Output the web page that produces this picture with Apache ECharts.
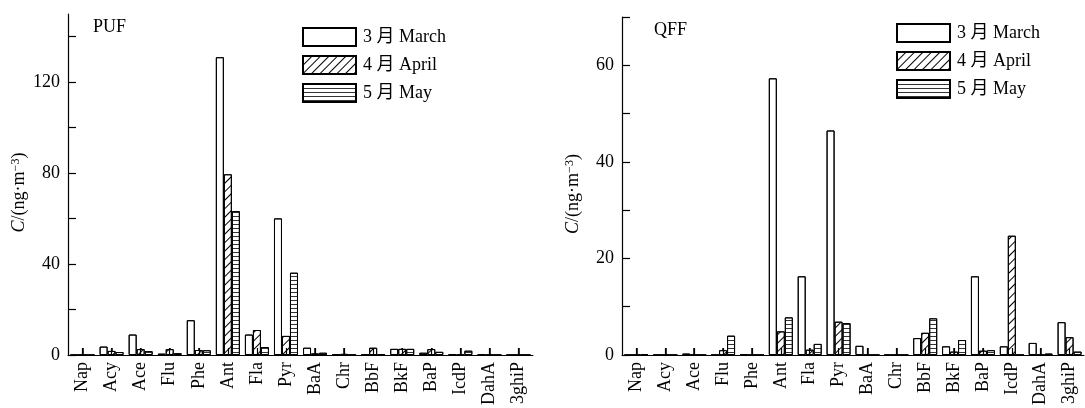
<!DOCTYPE html>
<html>
<head>
<meta charset="utf-8">
<script src="https://cdn.jsdelivr.net/npm/echarts@6/dist/echarts.min.js"></script>
<style>
html,body{margin:0;padding:0;background:#fff;}
#chart{width:1085px;height:408px;}
</style>
</head>
<body>
<div id="chart"></div>
<script>
const categories = ['Nap','Acy','Ace','Flu','Phe','Ant','Fla','Pyr','BaA','Chr','BbF','BkF','BaP','IcdP','DahA','3ghiP'];
const seriesNames = ['3 月 March', '4 月 April', '5 月 May'];
// PUF (ng/m3)
const pufMarch = [0, 3.7, 9.0, 0.6, 15.3, 131, 9.0, 60.1, 3.2, 0.4, 0.3, 2.7, 1.0, 0.3, 0.3, 0];
const pufApril = [0, 1.8, 2.6, 2.6, 2.2, 79.5, 11.0, 8.4, 0.7, 0.5, 3.2, 2.7, 2.6, 0, 0, 0];
const pufMay   = [0, 1.3, 1.7, 0.8, 2.1, 63.3, 3.5, 36.2, 1.0, 0, 0.4, 2.7, 1.4, 1.9, 0, 0];
// QFF (ng/m3)
const qffMarch = [0, 0, 0.3, 0, 0.2, 57.3, 16.3, 46.5, 1.9, 0, 3.5, 1.8, 16.3, 1.8, 2.5, 6.8];
const qffApril = [0, 0, 0, 1.0, 0, 4.9, 1.1, 6.9, 0, 0, 4.6, 0.7, 0.9, 24.7, 0, 3.7];
const qffMay   = [0.2, 0, 0, 4.0, 0, 7.8, 2.3, 6.6, 0, 0, 7.6, 3.1, 1.0, 0, 0.3, 0.7];
// axis ticks
const pufTicks = [0, 20, 40, 60, 80, 100, 120, 140];
const pufLabels = [0, 40, 80, 120];
const qffTicks = [0, 10, 20, 30, 40, 50, 60, 70];
const qffLabels = [0, 20, 40, 60];

const FONT = 'Liberation Serif, "Times New Roman", "Noto Sans CJK SC", serif';
const decals = [
  { symbol: 'rect', symbolSize: 1, color: 'rgba(0,0,0,0)', dashArrayX: [1, 0], dashArrayY: [1, 0], rotation: 0 },
  { symbol: 'rect', symbolSize: 1, color: '#000', dashArrayX: [1, 0], dashArrayY: [1, 5], rotation: -Math.PI / 4 },
  { symbol: 'rect', symbolSize: 1, color: '#333', dashArrayX: [1, 0], dashArrayY: [1, 3], rotation: 0 }
];

function xAxis(gridIndex) {
  return {
    type: 'category', gridIndex, data: categories,
    axisLine: { show: true, lineStyle: { color: '#000', width: 1 } },
    axisTick: { show: true, inside: true, interval: 0, alignWithLabel: true, length: 7, lineStyle: { color: '#000', width: 1.5 } },
    axisLabel: { interval: 0, rotate: 90, margin: 7, color: '#000', fontSize: 18, fontFamily: FONT }
  };
}
function tickAxis(gridIndex) {
  return {
    type: 'category', gridIndex, data: categories, position: 'bottom', z: 3,
    axisLine: { show: false, onZero: false },
    axisTick: { show: true, inside: true, interval: 0, alignWithLabel: true, length: 7, lineStyle: { color: '#000', width: 1.2 } },
    axisLabel: { show: false },
    splitLine: { show: false }
  };
}
function yAxis(gridIndex, max, ticks, labels) {
  return {
    type: 'value', gridIndex, min: 0, max,
    name: '{i|C}/(ng·m{s|−3})', nameLocation: 'middle', nameGap: 40, nameRotate: 90,
    nameTextStyle: { color: '#000', fontSize: 18, fontFamily: FONT, padding: [0, 16, 0, 0],
      rich: { i: { fontStyle: 'italic', fontSize: 18, fontFamily: FONT, color: '#000' },
              s: { fontSize: 12, fontFamily: FONT, color: '#000', verticalAlign: 'top' } } },
    axisLine: { show: true, lineStyle: { color: '#000', width: 1.2 } },
    axisTick: { show: true, inside: true, length: 8, customValues: ticks, lineStyle: { color: '#000', width: 1.2 } },
    axisLabel: { customValues: labels, margin: 8, color: '#000', fontSize: 18, fontFamily: FONT },
    splitLine: { show: false }
  };
}
function bars(idx, data, i) {
  return {
    type: 'bar', name: seriesNames[i], xAxisIndex: idx, yAxisIndex: idx, data,
    barWidth: 8, barGap: '0%',
    itemStyle: { color: '#fff', borderColor: '#000', borderWidth: 1, decal: decals[i] },
    emphasis: { disabled: true }
  };
}
function legend(left, top) {
  return {
    orient: 'vertical', left, top, data: seriesNames, padding: 0,
    itemWidth: 53, itemHeight: 18, itemGap: 8, icon: 'rect',
    textStyle: { color: '#000', fontSize: 18, fontFamily: FONT, lineHeight: 18, padding: [0, 0, 0, 2] }
  };
}

const chart = echarts.init(document.getElementById('chart'));
chart.setOption({
  animation: false,
  backgroundColor: '#fff',
  aria: { enabled: true, decal: { show: true } },
  title: [
    { text: 'PUF', left: 93, top: 18, padding: 0, textStyle: { color: '#000', fontSize: 18, fontWeight: 'normal', fontFamily: FONT } },
    { text: 'QFF', left: 654, top: 21, padding: 0, textStyle: { color: '#000', fontSize: 18, fontWeight: 'normal', fontFamily: FONT } }
  ],
  legend: [legend(302, 27), legend(896, 23)],
  grid: [
    { left: 68, right: 552, top: 14, bottom: 50 },
    { left: 622, right: 1, top: 17, bottom: 50 }
  ],
  xAxis: [xAxis(0), xAxis(1), tickAxis(0), tickAxis(1)],
  yAxis: [yAxis(0, 150, pufTicks, pufLabels), yAxis(1, 70, qffTicks, qffLabels)],
  series: [
    bars(0, pufMarch, 0), bars(0, pufApril, 1), bars(0, pufMay, 2),
    bars(1, qffMarch, 0), bars(1, qffApril, 1), bars(1, qffMay, 2)
  ]
});
</script>
</body>
</html>
